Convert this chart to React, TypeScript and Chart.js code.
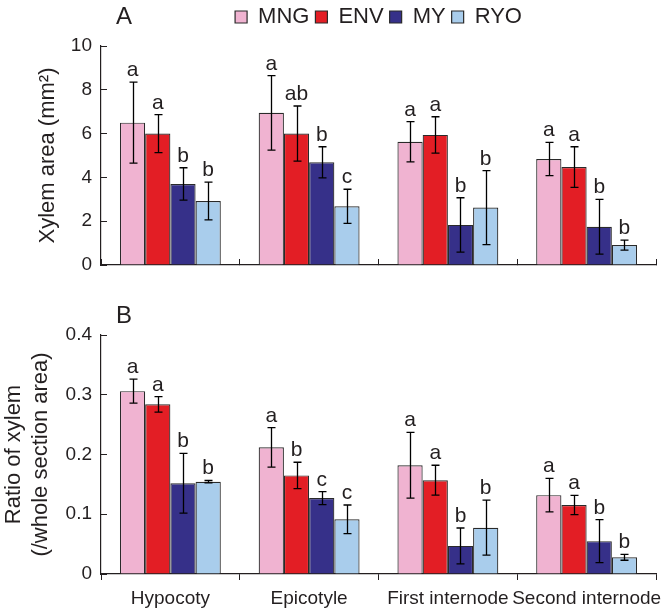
import React, { useEffect, useRef } from 'react';
import { Chart, registerables } from 'chart.js';

Chart.register(...registerables);

const categories = ['Hypocoty', 'Epicotyle', 'First internode', 'Second internode'];
const seriesNames = ['MNG', 'ENV', 'MY', 'RYO'];
const seriesColors = ['#F0B3D1', '#E31E25', '#363089', '#A9CDEC'];

// Panel A: xylem area (mm2)
const areaMNG = [6.5, 6.95, 5.63, 4.84];
const areaENV = [6.0, 6.0, 5.94, 4.47];
const areaMY = [3.7, 4.69, 1.83, 1.75];
const areaRYO = [2.92, 2.68, 2.62, 0.91];
const areaErrMNG = [1.85, 1.7, 0.92, 0.76];
const areaErrENV = [0.87, 1.26, 0.83, 0.93];
const areaErrMY = [0.74, 0.71, 1.24, 1.25];
const areaErrRYO = [0.86, 0.78, 1.69, 0.23];
const areaLetMNG = ['a', 'a', 'a', 'a'];
const areaLetENV = ['a', 'ab', 'a', 'a'];
const areaLetMY = ['b', 'b', 'b', 'b'];
const areaLetRYO = ['b', 'c', 'b', 'b'];
const areaTicks = [0, 2, 4, 6, 8, 10];

// Panel B: ratio of xylem (/whole section area)
const ratioMNG = [0.306, 0.212, 0.182, 0.132];
const ratioENV = [0.284, 0.165, 0.157, 0.1155];
const ratioMY = [0.152, 0.127, 0.047, 0.055];
const ratioRYO = [0.1545, 0.0915, 0.0775, 0.028];
const ratioErrMNG = [0.02, 0.033, 0.055, 0.028];
const ratioErrENV = [0.013, 0.022, 0.025, 0.016];
const ratioErrMY = [0.05, 0.011, 0.03, 0.036];
const ratioErrRYO = [0.002, 0.024, 0.046, 0.005];
const ratioLetMNG = ['a', 'a', 'a', 'a'];
const ratioLetENV = ['a', 'b', 'a', 'a'];
const ratioLetMY = ['b', 'c', 'b', 'b'];
const ratioLetRYO = ['b', 'c', 'b', 'b'];
const ratioTicks = [0, 0.1, 0.2, 0.3, 0.4];

const FONT = "'Liberation Sans', Arial, Helvetica, sans-serif";
const INK = '#231F20';

const errorBarPlugin = {
  id: 'errorBars',
  afterDatasetsDraw(chart: any) {
    const { ctx } = chart;
    const y = chart.scales.y;
    ctx.save();
    chart.data.datasets.forEach((ds: any, di: number) => {
      const meta = chart.getDatasetMeta(di);
      meta.data.forEach((bar: any, i: number) => {
        const v = ds.data[i];
        const e = ds.errors[i];
        const yt = y.getPixelForValue(v + e);
        const yb = y.getPixelForValue(v - e);
        const x = Math.round(bar.x) + 0.5;
        ctx.strokeStyle = '#000';
        ctx.lineWidth = 1.3;
        ctx.beginPath();
        ctx.moveTo(x, yt);
        ctx.lineTo(x, yb);
        ctx.moveTo(x - 4, yt);
        ctx.lineTo(x + 4, yt);
        ctx.moveTo(x - 4, yb);
        ctx.lineTo(x + 4, yb);
        ctx.stroke();
        ctx.fillStyle = INK;
        ctx.font = `21px ${FONT}`;
        ctx.textAlign = 'center';
        ctx.textBaseline = 'alphabetic';
        ctx.fillText(ds.letters[i], bar.x, yt - 6);
      });
    });
    ctx.restore();
  },
};

const panelLabelPlugin = {
  id: 'panelLabel',
  afterDraw(chart: any, _args: any, opts: any) {
    const { ctx } = chart;
    ctx.save();
    ctx.fillStyle = INK;
    ctx.font = `24px ${FONT}`;
    ctx.textAlign = 'left';
    ctx.textBaseline = 'alphabetic';
    ctx.fillText(opts.text, opts.x, opts.y);
    ctx.restore();
  },
};

function makeDatasets(values: number[][], errs: number[][], lets: string[][]) {
  return seriesNames.map((name, k) => ({
    label: name,
    data: values[k],
    errors: errs[k],
    letters: lets[k],
    backgroundColor: seriesColors[k],
    borderColor: '#2a2a2a',
    borderWidth: 1.2,
    categoryPercentage: 0.727,
    barPercentage: 1,
  }));
}

function PanelA() {
  const ref = useRef<HTMLCanvasElement>(null);
  useEffect(() => {
    const chart = new Chart(ref.current as HTMLCanvasElement, {
      type: 'bar',
      data: {
        labels: categories,
        datasets: makeDatasets(
          [areaMNG, areaENV, areaMY, areaRYO],
          [areaErrMNG, areaErrENV, areaErrMY, areaErrRYO],
          [areaLetMNG, areaLetENV, areaLetMY, areaLetRYO]
        ) as any,
      },
      options: {
        animation: false,
        responsive: false,
        devicePixelRatio: 1,
        layout: { padding: { left: 0, right: 16, top: 0, bottom: 0 } },
        plugins: {
          legend: {
            display: true,
            position: 'top',
            fullSize: false,
            labels: {
              boxWidth: 12,
              boxHeight: 12,
              padding: 6,
              color: INK,
              font: { size: 22, family: FONT },
            },
          },
          subtitle: {
            display: true,
            text: '',
            position: 'top',
            fullSize: false,
            weight: 500,
            font: { size: 1 },
            padding: { top: 0, bottom: 6.8 },
          },
          tooltip: { enabled: false },
          panelLabel: { text: 'A', x: 116, y: 24 },
        } as any,
        scales: {
          x: {
            grid: {
              display: true,
              drawOnChartArea: false,
              drawTicks: true,
              tickLength: -6,
              color: INK,
              lineWidth: 1,
              offset: true,
            },
            border: { display: true, color: INK, width: 1.2 },
            ticks: { display: false },
            afterFit: (s: any) => {
              s.height = 15;
            },
          },
          y: {
            min: 0,
            max: 10,
            afterBuildTicks: (s: any) => {
              s.ticks = areaTicks.map((v) => ({ value: v }));
            },
            ticks: { color: INK, font: { size: 19, family: FONT }, padding: 15 },
            grid: { drawOnChartArea: false, drawTicks: true, tickLength: -6, color: INK, lineWidth: 1 },
            border: { display: true, color: INK, width: 1.2 },
            title: {
              display: true,
              text: 'Xylem area (mm²)',
              color: INK,
              font: { size: 22, family: FONT },
              padding: { top: 35, bottom: 0 },
            },
            afterFit: (s: any) => {
              s.width = 101;
              s.paddingBottom = 0;
            },
          },
        } as any,
      },
      plugins: [errorBarPlugin, panelLabelPlugin],
    });
    return () => chart.destroy();
  }, []);
  return <canvas ref={ref} width={672} height={280} style={{ display: 'block' }} />;
}

function PanelB() {
  const ref = useRef<HTMLCanvasElement>(null);
  useEffect(() => {
    const chart = new Chart(ref.current as HTMLCanvasElement, {
      type: 'bar',
      data: {
        labels: categories,
        datasets: makeDatasets(
          [ratioMNG, ratioENV, ratioMY, ratioRYO],
          [ratioErrMNG, ratioErrENV, ratioErrMY, ratioErrRYO],
          [ratioLetMNG, ratioLetENV, ratioLetMY, ratioLetRYO]
        ) as any,
      },
      options: {
        animation: false,
        responsive: false,
        devicePixelRatio: 1,
        layout: { padding: { left: 0, right: 16, top: 55, bottom: 0 } },
        plugins: {
          legend: { display: false },
          tooltip: { enabled: false },
          panelLabel: { text: 'B', x: 116, y: 43 },
        } as any,
        scales: {
          x: {
            grid: {
              display: true,
              drawOnChartArea: false,
              drawTicks: true,
              tickLength: 6,
              color: INK,
              lineWidth: 1,
              offset: true,
            },
            border: { display: true, color: INK, width: 1.2 },
            ticks: { color: INK, font: { size: 19, family: FONT }, padding: 7, maxRotation: 0, autoSkip: false },
            afterFit: (s: any) => {
              s.height = 36;
            },
          },
          y: {
            min: 0,
            max: 0.4,
            afterBuildTicks: (s: any) => {
              s.ticks = ratioTicks.map((v) => ({ value: v }));
            },
            ticks: { color: INK, font: { size: 19, family: FONT }, padding: 15 },
            grid: { drawOnChartArea: false, drawTicks: true, tickLength: -6, color: INK, lineWidth: 1 },
            border: { display: true, color: INK, width: 1.2 },
            title: {
              display: true,
              text: ['Ratio of xylem', '(/whole section area)'],
              color: INK,
              font: { size: 22, family: FONT, lineHeight: 1.25 },
              padding: { top: 0, bottom: 0 },
            },
            afterFit: (s: any) => {
              s.width = 101;
              s.paddingBottom = 0;
            },
          },
        } as any,
      },
      plugins: [errorBarPlugin, panelLabelPlugin],
    });
    return () => chart.destroy();
  }, []);
  return <canvas ref={ref} width={672} height={330} style={{ display: 'block' }} />;
}

export default function App() {
  return (
    <div style={{ position: 'absolute', left: 0, top: 0, width: 672, height: 610, background: '#fff' }}>
      <PanelA />
      <PanelB />
    </div>
  );
}
